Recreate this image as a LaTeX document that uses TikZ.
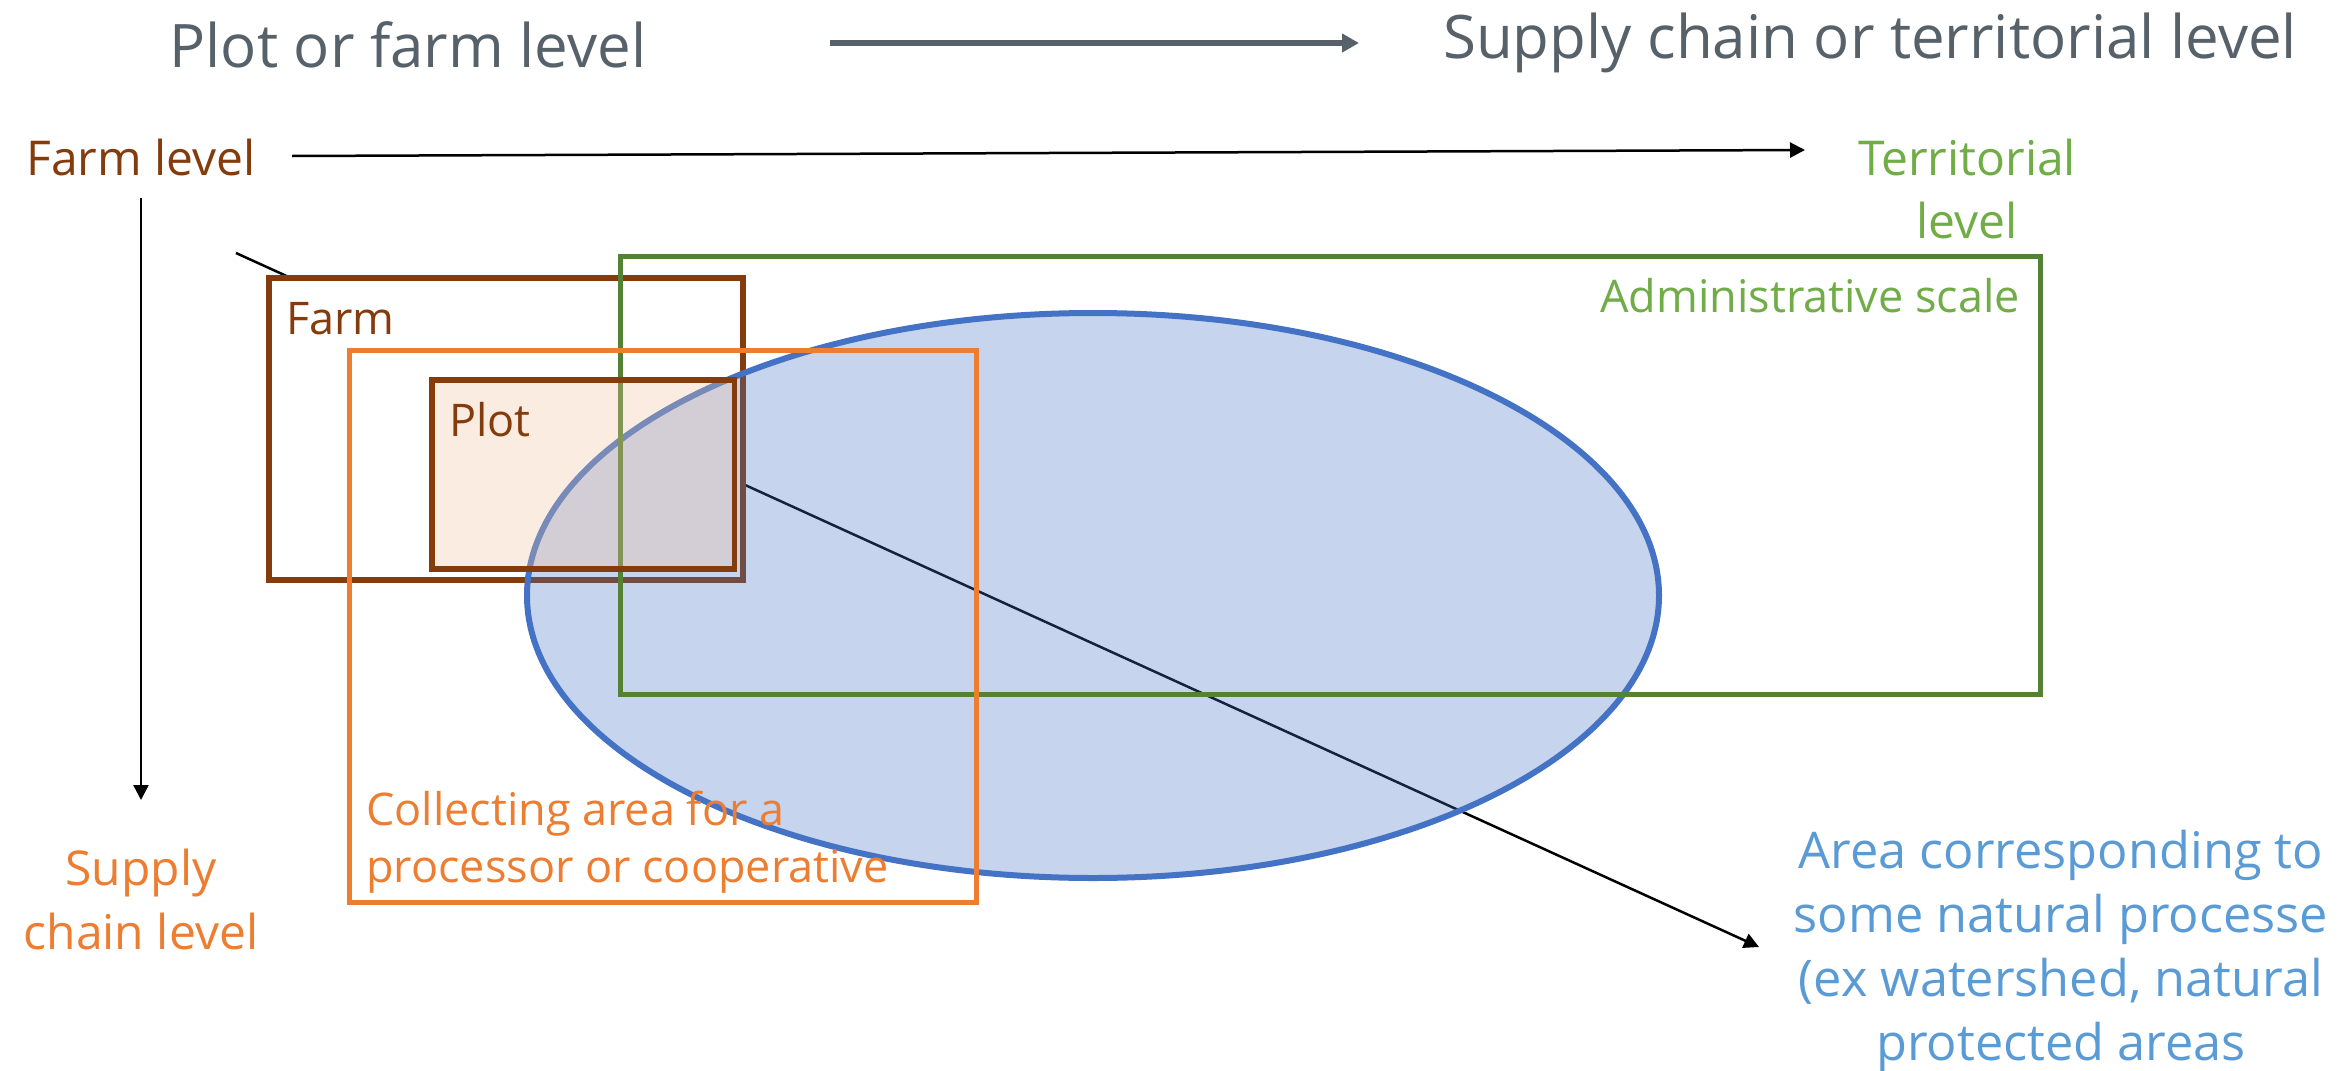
\documentclass[tikz,border=0pt]{standalone}
\usepackage{fontspec}
\setmainfont{Open Sans}
\usetikzlibrary{arrows.meta,shapes.geometric}

\definecolor{slate}{RGB}{87,97,106}
\definecolor{brownline}{RGB}{132,60,12}
\definecolor{orangeline}{RGB}{237,125,49}
\definecolor{greenline}{RGB}{84,130,53}
\definecolor{greentext}{RGB}{112,173,71}
\definecolor{blueline}{RGB}{68,114,196}
\definecolor{bluetext}{RGB}{91,155,213}
\definecolor{peach}{RGB}{242,195,158}

\begin{document}
\begin{tikzpicture}[x=1pt,y=-1pt,
  txt/.style={inner sep=0pt, font=\fontsize{48}{64}\selectfont},
  smalltxt/.style={inner sep=0pt, font=\fontsize{45}{57}\selectfont},
  headline/.style={inner sep=0pt, font=\fontsize{60}{72}\selectfont, text=slate},
  zone/.style={rectangle, draw, inner sep=0pt},
  pointer/.style={-{Triangle[length=15pt,width=15pt]}, line width=2.5pt, black},
]
\useasboundingbox[fill=white] (0,0) rectangle (2346,1071);

% scale headings
\node[headline, anchor=base] (plotfarm) at (408,67) {Plot or farm level};
\node[headline, anchor=base] (chainterr) at (1870,58) {Supply chain or territorial level};
\coordinate (topStart) at (830,43);
\coordinate (topEnd) at (1359,43);
\draw[-{Triangle[length=17pt,width=18pt]}, line width=6pt, slate] (topStart) -- (topEnd);

% axis labels (base anchor sits on the last line)
\node[txt, anchor=base, text=brownline] (farmlevel) at (141,175) {Farm level};
\node[txt, anchor=base, align=center, text=greentext,
      font=\fontsize{48}{63}\selectfont] (territorial) at (1967,238) {Territorial\\level};
\node[txt, anchor=base, align=center, text=orangeline] (supplychain) at (141,949) {Supply\\chain level};

% axes
\coordinate (hStart) at (292,156);
\coordinate (hEnd) at (1805,150);
\draw[pointer] (hStart) -- (hEnd);
\coordinate (vStart) at (141,198);
\coordinate (vEnd) at (141,800);
\draw[pointer] (vStart) -- (vEnd);

% diagonal pointer towards the natural-process area
\coordinate (diagStart) at (236,253);
\coordinate (diagEnd) at (1759,947);
\draw[pointer] (diagStart) -- (diagEnd);

% nested spatial units
\node[zone, draw=brownline, line width=6pt, fill=white,
      minimum width=474pt, minimum height=302pt] (farm) at (506,429) {};
\node[ellipse, draw=blueline, line width=6pt, fill=blueline, fill opacity=0.3,
      minimum width=1132pt, minimum height=565pt, inner sep=0pt] (natural) at (1093,595.5) {};
\node[zone, draw=greenline, line width=5pt,
      minimum width=1420pt, minimum height=438pt] (admin) at (1330,475) {};
\node[zone, draw=brownline, line width=5.5pt, fill=peach, fill opacity=0.3,
      minimum width=302.5pt, minimum height=189pt] (plot) at (583,474.5) {};
\node[zone, draw=orangeline, line width=5pt,
      minimum width=627pt, minimum height=552pt] (collect) at (662.5,626) {};

% unit labels
\node[smalltxt, anchor=base west, text=brownline] (farmlbl) at (286,334) {Farm};
\node[smalltxt, anchor=base west, text=brownline] (plotlbl) at (449,436) {Plot};
\node[smalltxt, anchor=base east, text=greentext] (adminlbl) at (2020,312) {Administrative scale};
\node[smalltxt, anchor=base west, align=left, text=orangeline] (collectlbl) at (366,882)
  {Collecting area for a\\processor or cooperative};
\node[txt, anchor=base, align=center, text=bluetext,
      font=\fontsize{50.5}{64}\selectfont] (naturallbl) at (2061,1060)
  {Area corresponding to\\some natural processe\\(ex watershed, natural\\protected areas};
\end{tikzpicture}
\end{document}
